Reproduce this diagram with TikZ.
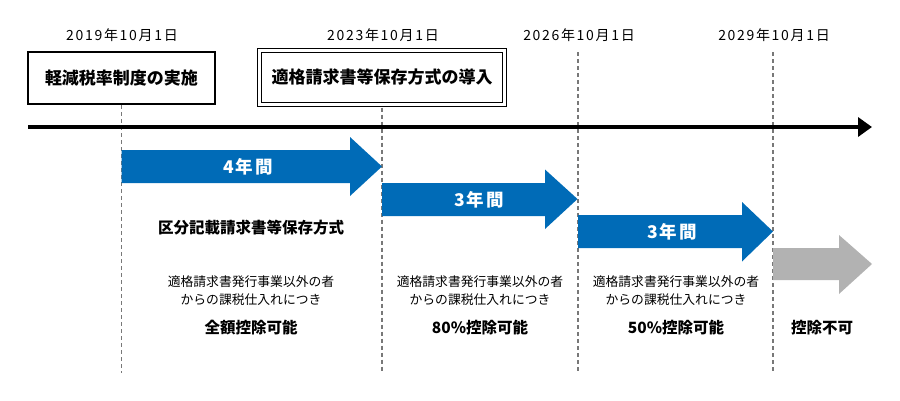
\documentclass[tikz,border=0pt]{standalone}
\usepackage{fontspec}
\setmainfont{Noto Sans CJK JP}
\newfontfamily\jpsp{Noto Sans CJK JP}[LetterSpace=12]
\newfontfamily\jpspb{Noto Sans CJK JP}[LetterSpace=12]
\usetikzlibrary{arrows.meta}
\definecolor{arrowblue}{RGB}{0,107,183}
\definecolor{arrowgrey}{RGB}{178,178,178}
\definecolor{dashgrey}{RGB}{120,120,120}
\tikzset{
  datelabel/.style={font=\jpsp\fontsize{14}{15}\selectfont, inner sep=0pt},
  titlebox/.style={font=\bfseries\fontsize{17}{20}\selectfont, inner sep=0pt},
  arrowlabel/.style={font=\jpspb\bfseries\fontsize{17.5}{19}\selectfont, text=white, inner sep=0pt},
  smalltext/.style={font=\fontsize{12.8}{18}\selectfont, inner sep=0pt, align=center},
  boldtext/.style={font=\bfseries\fontsize{15.5}{18}\selectfont, inner sep=0pt},
  guide/.style={draw=dashgrey, line width=1.8pt, dash pattern=on 4pt off 3pt},
}
\begin{document}
\begin{tikzpicture}[x=1pt,y=-1pt]
\useasboundingbox (0,0) rectangle (900,400);

% dates
\node[datelabel] (d2019) at (122,35) {2019年10月1日};
\node[datelabel] (d2023) at (383,35) {2023年10月1日};
\node[datelabel] (d2026) at (579,35) {2026年10月1日};
\node[datelabel] (d2029) at (774,35) {2029年10月1日};

% boxes
\draw[line width=1.6pt] (28,52) rectangle (215,104);
\node[titlebox] (box1) at (121.5,78) {軽減税率制度の実施};
\coordinate (box1s) at (121.5,105);
\draw[line width=1.2pt, double, double distance=2.8pt] (259.5,50.5) rectangle (504.7,104.7);
\node[titlebox] (box2) at (382,77.5) {適格請求書等保存方式の導入};
\coordinate (box2s) at (382,107.5);

% dashed guides
\coordinate (g1) at (121.5,373);
\coordinate (g2) at (382,373);
\coordinate (g3) at (578,373);
\coordinate (g4) at (773,373);
\coordinate (d2026s) at (578,52);
\coordinate (d2029s) at (773,52);
\draw[guide] (box1s) -- (g1);
\draw[guide] (box2s) -- (g2);
\draw[guide] (d2026s) -- (g3);
\draw[guide] (d2029s) -- (g4);

% timeline
\coordinate (tl0) at (28,127);
\coordinate (tl1) at (872,127);
\draw[line width=3.5pt, -{Triangle[length=14pt,width=19pt]}] (tl0) -- (tl1);

% period arrows
\fill[arrowblue] (121.5,150) -- (350,150) -- (350,137) -- (382,166.5) -- (350,196) -- (350,183) -- (121.5,183) -- cycle;
\node[arrowlabel] (a1) at (248,167) {4年間};
\fill[arrowblue] (382,183) -- (545,183) -- (545,169.5) -- (577.5,199) -- (545,229) -- (545,216) -- (382,216) -- cycle;
\node[arrowlabel] (a2) at (479,199.5) {3年間};
\fill[arrowblue] (578,215) -- (742,215) -- (742,202) -- (773,231.5) -- (742,261.5) -- (742,248) -- (578,248) -- cycle;
\node[arrowlabel] (a3) at (672,232) {3年間};
\fill[arrowgrey] (773,248) -- (839,248) -- (839,235) -- (872,264) -- (839,294) -- (839,280) -- (773,280) -- cycle;

% texts
\node[boldtext] (kubun) at (251,228) {区分記載請求書等保存方式};
\node[smalltext] (c2a) at (251,291) {適格請求書発行事業以外の者\\からの課税仕入れにつき};
\node[boldtext] (c2b) at (251,328) {全額控除可能};
\node[smalltext] (c3a) at (480,291) {適格請求書発行事業以外の者\\からの課税仕入れにつき};
\node[boldtext] (c3b) at (480,328) {80\%控除可能};
\node[smalltext] (c4a) at (676,291) {適格請求書発行事業以外の者\\からの課税仕入れにつき};
\node[boldtext] (c4b) at (676,328) {50\%控除可能};
\node[boldtext] (c5b) at (822,328) {控除不可};
\end{tikzpicture}
\end{document}
